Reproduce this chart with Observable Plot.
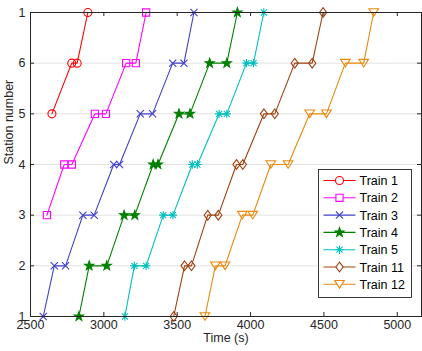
<!DOCTYPE html>
<html>
<head>
<meta charset="utf-8">
<script src="https://cdn.jsdelivr.net/npm/d3@7"></script>
<script src="https://cdn.jsdelivr.net/npm/@observablehq/plot@0.6"></script>
<style>
  html, body { margin: 0; padding: 0; background: #fff; }
  #chart svg { display: block; }
</style>
</head>
<body>
<div id="chart"></div>
<script>
// Train timetable: arrival / departure time at each station along a loop line
const trainNames = ["Train 1", "Train 2", "Train 3", "Train 4", "Train 5", "Train 11", "Train 12"];

const train1Times = [2646, 2781, 2818, 2891];
const train1Stops = [5, 6, 6, 7];
const train2Times = [2612, 2730, 2782, 2939, 3014, 3152, 3218, 3288];
const train2Stops = [3, 4, 4, 5, 5, 6, 6, 7];
const train3Times = [2587, 2662, 2739, 2857, 2934, 3067, 3107, 3248, 3332, 3469, 3546, 3614];
const train3Stops = [1, 2, 2, 3, 3, 4, 4, 5, 5, 6, 6, 7];
const train4Times = [2830, 2900, 3020, 3138, 3211, 3336, 3369, 3512, 3587, 3721, 3838, 3910];
const train4Stops = [1, 2, 2, 3, 3, 4, 4, 5, 5, 6, 6, 7];
const train5Times = [3143, 3208, 3288, 3405, 3471, 3603, 3638, 3786, 3838, 3972, 4020, 4090];
const train5Stops = [1, 2, 2, 3, 3, 4, 4, 5, 5, 6, 6, 7];
const train11Times = [3476, 3550, 3597, 3708, 3780, 3904, 3947, 4091, 4165, 4301, 4420, 4494];
const train11Stops = [1, 2, 2, 3, 3, 4, 4, 5, 5, 6, 6, 7];
const train12Times = [3689, 3760, 3826, 3944, 4015, 4138, 4256, 4403, 4517, 4646, 4771, 4839];
const train12Stops = [1, 2, 2, 3, 3, 4, 4, 5, 5, 6, 6, 7];

const timeTicks = [2500, 3000, 3500, 4000, 4500, 5000];
const stopTicks = [1, 2, 3, 4, 5, 6, 7];
const stopTickLabels = ["1", "2", "3", "4", "5", "6", "1"];

// ---- styling ----
const colors = ["#ff0000", "#ff00ff", "#4040cc", "#008000", "#00bfbf", "#a0400f", "#e8890c"];
const axisColor = "#262626";
const fontFamily = "'Liberation Sans', Arial, Helvetica, sans-serif";

// Marker shapes; r is derived from the area Plot passes in (r² · π)
const rad = size => Math.sqrt(size / Math.PI);
const symCircle = { draw(c, s) { const r = rad(s); c.moveTo(r, 0); c.arc(0, 0, r, 0, 2 * Math.PI); } };
const symSquare = { draw(c, s) { const h = rad(s) * 0.9; c.rect(-h, -h, 2 * h, 2 * h); } };
const symTimes = { draw(c, s) { const h = rad(s) * 0.9; c.moveTo(-h, -h); c.lineTo(h, h); c.moveTo(h, -h); c.lineTo(-h, h); } };
const symStar = { draw(c, s) {
  const R = rad(s) * 1.2, r = R * 0.4;
  for (let i = 0; i < 10; ++i) {
    const a = -Math.PI / 2 + i * Math.PI / 5, rr = i % 2 ? r : R;
    const x = rr * Math.cos(a), y = rr * Math.sin(a);
    i ? c.lineTo(x, y) : c.moveTo(x, y);
  }
  c.closePath();
} };
const symAsterisk = { draw(c, s) {
  const h = rad(s) * 1.05, d = h * 0.72;
  c.moveTo(0, -h); c.lineTo(0, h); c.moveTo(-h, 0); c.lineTo(h, 0);
  c.moveTo(-d, -d); c.lineTo(d, d); c.moveTo(d, -d); c.lineTo(-d, d);
} };
const symDiamond = { draw(c, s) {
  const r = rad(s), w = r * 0.9, h = r * 1.2;
  c.moveTo(0, -h); c.lineTo(w, 0); c.lineTo(0, h); c.lineTo(-w, 0); c.closePath();
} };
const symTriDown = { draw(c, s) {
  const r = rad(s), w = r * 1.2, h = r * 0.95;
  c.moveTo(-w, -h); c.lineTo(w, -h); c.lineTo(0, h); c.closePath();
} };
const symbols = [symCircle, symSquare, symTimes, symStar, symAsterisk, symDiamond, symTriDown];
const filled = [false, false, false, true, false, false, false];

// ---- table ----
const series = [
  [train1Times, train1Stops], [train2Times, train2Stops], [train3Times, train3Stops],
  [train4Times, train4Stops], [train5Times, train5Stops], [train11Times, train11Stops],
  [train12Times, train12Stops]
];
const rows = [];
series.forEach(([times, stops], i) => times.forEach((t, j) => rows.push({ train: trainNames[i], time: t, stop: stops[j] })));

const W = 422, H = 351;
const M = { top: 12, right: 1, bottom: 35, left: 30 };
const frameW = W - M.left - M.right;
const frameH = H - M.top - M.bottom;
const tickLen = 4;

const marks = [
  Plot.gridY(stopTicks, { stroke: "#e2e2e2", strokeOpacity: 1, strokeWidth: 1 }),
  // inward ticks on all four sides
  Plot.tickX(timeTicks, { x: d => d, insetTop: frameH - tickLen, stroke: axisColor }),
  Plot.tickX(timeTicks, { x: d => d, insetBottom: frameH - tickLen, stroke: axisColor }),
  Plot.tickY(stopTicks, { y: d => d, insetRight: frameW - tickLen, stroke: axisColor }),
  Plot.tickY(stopTicks, { y: d => d, insetLeft: frameW - tickLen, stroke: axisColor }),
  Plot.axisX(timeTicks, { tickSize: 0, tickPadding: 4, label: null, tickFormat: d => String(d) }),
  Plot.axisY(stopTicks, { tickSize: 0, tickPadding: 5, label: null, tickFormat: (d, i) => stopTickLabels[i] }),
  Plot.text(["Time (s)"], { text: d => d, frameAnchor: "bottom", dy: 25.5, fontSize: 12.5, fill: axisColor }),
  Plot.text(["Station number"], { text: d => d, frameAnchor: "left", dx: -22, rotate: -90, fontSize: 12.5, fill: axisColor }),
  Plot.line(rows, { x: "time", y: "stop", z: "train", stroke: "train", strokeWidth: 1.1 })
];
trainNames.forEach((name, i) => {
  marks.push(Plot.dot(rows.filter(d => d.train === name), {
    x: "time", y: "stop", r: 4, symbol: symbols[i],
    stroke: colors[i], fill: filled[i] ? colors[i] : "none", strokeWidth: 1.1
  }));
});
marks.push(Plot.frame({ stroke: axisColor, strokeWidth: 1 }));

const svg = Plot.plot({
  width: W, height: H,
  marginTop: M.top, marginRight: M.right, marginBottom: M.bottom, marginLeft: M.left,
  style: { fontFamily, fontSize: "12.5px", color: axisColor, background: "#fff", overflow: "visible" },
  x: { domain: [2500, 5165] },
  y: { domain: [1, 7] },
  color: { domain: trainNames, range: colors },
  marks
});

// legend box in the lower right of the plot area
const lg = d3.select(svg).append("g").attr("transform", "translate(318.5,169.5)")
  .attr("text-anchor", "start")
  .style("font-family", fontFamily).style("font-size", "12.5px");
lg.append("rect").attr("width", 93).attr("height", 128)
  .attr("fill", "#fff").attr("stroke", axisColor).attr("stroke-width", 0.9);
trainNames.forEach((name, i) => {
  const y = 11 + i * 17.3;
  lg.append("line").attr("x1", 5).attr("x2", 37).attr("y1", y).attr("y2", y)
    .attr("stroke", colors[i]).attr("stroke-width", 1.1);
  lg.append("path").attr("d", d3.symbol().type(symbols[i]).size(16 * Math.PI)())
    .attr("transform", `translate(21,${y})`)
    .attr("stroke", colors[i]).attr("stroke-width", 1.1)
    .attr("fill", filled[i] ? colors[i] : "#fff");
  lg.append("text").attr("x", 41).attr("y", y).attr("dy", "0.36em")
    .attr("text-anchor", "start").attr("fill", "#000").text(name);
});

document.getElementById("chart").appendChild(svg);
</script>
</body>
</html>
